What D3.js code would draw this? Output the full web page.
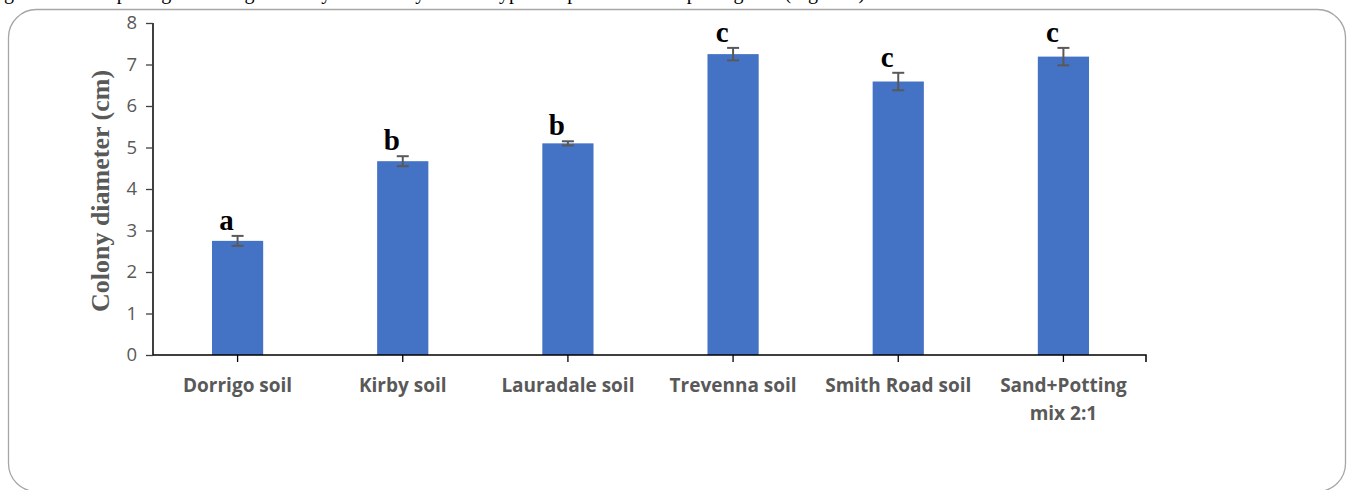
<!DOCTYPE html>
<html>
<head>
<meta charset="utf-8">
<script src="https://cdn.jsdelivr.net/npm/d3@7.9.0/dist/d3.min.js"></script>
<style>
  body { margin: 0; background: #fff; }
  svg { display: block; }
</style>
</head>
<body>
<div id="chart"></div>
<script>
// chart data
const categories = ['Dorrigo soil', 'Kirby soil', 'Lauradale soil', 'Trevenna soil', 'Smith Road soil', 'Sand+Potting mix 2:1'];
const diameters = [2.75, 4.67, 5.1, 7.25, 6.59, 7.19];
const errors = [0.12, 0.12, 0.05, 0.15, 0.21, 0.21];
const letters = ['a', 'b', 'b', 'c', 'c', 'c'];
const yTicks = [0, 1, 2, 3, 4, 5, 6, 7, 8];

const width = 1348, height = 490;
const margin = { top: 23, right: 202, bottom: 135, left: 153 };

const svg = d3.select('#chart').append('svg')
  .attr('width', width)
  .attr('height', height);

// clipped line of the page text above the figure
svg.append('text')
  .attr('x', 4).attr('y', -1)
  .attr('font-family', 'Liberation Serif, serif')
  .attr('font-size', 20)
  .text('growth of the pathogen was significantly affected by the soil type compared with the potting mix (Figure 3).');

// rounded frame
svg.append('rect')
  .attr('x', 8.5).attr('y', 9.5)
  .attr('width', 1337).attr('height', 482)
  .attr('rx', 28)
  .attr('fill', 'none')
  .attr('stroke', '#a6a6a6')
  .attr('stroke-width', 1.3);

const x = d3.scaleBand()
  .domain(categories)
  .range([margin.left + 2, width - margin.right])
  .paddingInner(0.69)
  .paddingOuter(0.345);

const y = d3.scaleLinear()
  .domain([0, 8])
  .range([height - margin.bottom, margin.top]);

// y axis
const yAxis = svg.append('g')
  .attr('transform', `translate(${margin.left},0)`)
  .call(d3.axisLeft(y).tickValues(yTicks).tickSize(7).tickPadding(9).tickSizeOuter(0));
yAxis.select('.domain').attr('stroke', '#000').attr('stroke-width', 1.5)
  .attr('d', `M0,${y(8)}V${y(0)}`);
yAxis.selectAll('.tick line').attr('stroke', '#404040').attr('stroke-width', 1.3);
yAxis.selectAll('.tick text')
  .attr('fill', '#595959')
  .attr('font-family', 'Open Sans, sans-serif')
  .attr('font-size', 18.5);

// bars
svg.append('g')
  .selectAll('rect')
  .data(categories)
  .join('rect')
  .attr('x', d => x(d))
  .attr('y', (d, i) => y(diameters[i]))
  .attr('width', x.bandwidth())
  .attr('height', (d, i) => y(0) - y(diameters[i]))
  .attr('fill', '#4472c4');

// error bars
const eb = svg.append('g')
  .attr('stroke', '#595959')
  .attr('stroke-width', 2);
categories.forEach((c, i) => {
  const cx = x(c) + x.bandwidth() / 2;
  const top = y(diameters[i] + errors[i]);
  const bot = y(diameters[i] - errors[i]);
  eb.append('line').attr('x1', cx).attr('x2', cx).attr('y1', top).attr('y2', bot);
  eb.append('line').attr('x1', cx - 6).attr('x2', cx + 6).attr('y1', top).attr('y2', top);
  eb.append('line').attr('x1', cx - 6).attr('x2', cx + 6).attr('y1', bot).attr('y2', bot);
});

// x axis
const xAxis = svg.append('g')
  .attr('transform', `translate(0,${y(0)})`)
  .call(d3.axisBottom(x).tickSize(7).tickSizeOuter(7).tickFormat(''));
xAxis.select('.domain').attr('stroke', '#000').attr('stroke-width', 1.5)
  .attr('d', `M${margin.left},0H${width - margin.right}V7`);
xAxis.selectAll('.tick line').attr('stroke', '#000').attr('stroke-width', 1.3);

// category labels (wrapped like the original)
const labelLines = { 'Sand+Potting mix 2:1': ['Sand+Potting', 'mix 2:1'] };
const xl = svg.append('g')
  .attr('fill', '#595959')
  .attr('font-family', 'Open Sans, sans-serif')
  .attr('font-weight', 'bold')
  .attr('font-size', 19)
  .attr('text-anchor', 'middle');
categories.forEach(c => {
  const lines = labelLines[c] || [c];
  const t = xl.append('text')
    .attr('x', x(c) + x.bandwidth() / 2)
    .attr('y', y(0) + 37);
  lines.forEach((l, j) => {
    t.append('tspan')
      .attr('x', x(c) + x.bandwidth() / 2)
      .attr('dy', j === 0 ? 0 : 28)
      .text(l);
  });
});

// significance letters
svg.append('g')
  .attr('font-family', 'Liberation Serif, serif')
  .attr('font-weight', 'bold')
  .attr('font-size', 29)
  .attr('text-anchor', 'middle')
  .selectAll('text')
  .data(categories)
  .join('text')
  .attr('x', d => x(d) + x.bandwidth() / 2 - 11)
  .attr('y', (d, i) => y(diameters[i] + errors[i]) - 6)
  .text((d, i) => letters[i]);

// y axis title
svg.append('text')
  .attr('transform', `translate(109,${y(4) + 2}) rotate(-90)`)
  .attr('text-anchor', 'middle')
  .attr('fill', '#595959')
  .attr('font-family', 'Liberation Serif, serif')
  .attr('font-weight', 'bold')
  .attr('font-size', 26)
  .text('Colony diameter (cm)');
</script>
</body>
</html>
